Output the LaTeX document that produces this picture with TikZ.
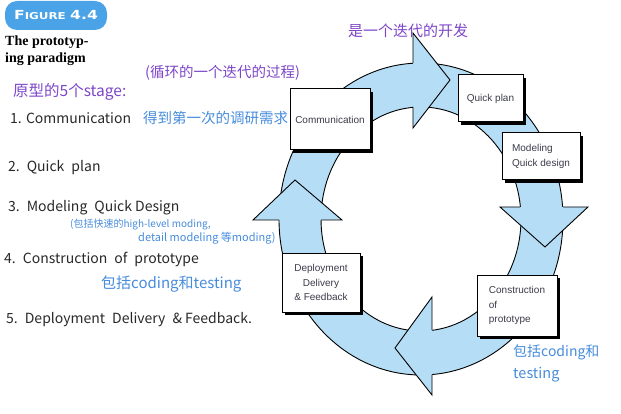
\documentclass[tikz,border=0pt]{standalone}
\usepackage{fontspec}
\newfontfamily\boxfont{Liberation Sans}
\newfontfamily\figfont{DejaVu Sans}
\newfontfamily\titlefont{Liberation Serif}
\newfontfamily\hand{Noto Sans CJK SC}
\usetikzlibrary{shadows}
\definecolor{ringblue}{RGB}{181,221,245}
\definecolor{figblue}{RGB}{74,163,230}
\definecolor{penpurple}{RGB}{125,70,200}
\definecolor{penblue}{RGB}{70,140,220}
\definecolor{penblack}{RGB}{40,40,40}
\definecolor{boxtext}{RGB}{60,60,75}
\tikzset{
    stage/.style={draw, fill=white, line width=1pt, text=boxtext, inner sep=2pt, font=\boxfont\fontsize{10}{14.5}\selectfont, drop shadow={shadow xshift=3pt, shadow yshift=-3pt, opacity=1, fill=black}},
    ring/.style={fill=ringblue, draw=black, line width=0.9pt},
    edge/.style={draw=black, line width=0.9pt, line join=miter},
    note/.style={anchor=west, inner sep=0pt, font=\hand\fontsize{#1}{#1}\selectfont},
    note/.default=14
}

\begin{document}
\begin{tikzpicture}[x=1pt, y=-1pt]
\useasboundingbox (0,0) rectangle (621,414);
\node[fill=figblue, rounded corners=12pt, minimum width=102pt, minimum height=29pt, text=white, font=\figfont\bfseries] (fig) at (56,15.5) {\scalebox{1.25}[1]{{\fontsize{12.5}{12.5}\selectfont F}{\fontsize{9.5}{9.5}\selectfont IGURE} {\fontsize{12.5}{12.5}\selectfont 4.4}}};
\node[anchor=north west, align=left, inner sep=0pt, font=\titlefont\bfseries\fontsize{14}{17}\selectfont] (title) at (5,36) {The prototyp-\\ing paradigm};

\draw[ring, even odd rule] (421,219) ellipse [x radius=142pt, y radius=156pt] (421,219) ellipse [x radius=100pt, y radius=112pt];
\fill[ringblue] (413,33) -- (450,80) -- (413,128) -- cycle;
\draw[edge] (413,63) -- (413,33) -- (450,80) -- (413,128) -- (413,107);
\fill[ringblue] (500,207) -- (545,247) -- (588,207) -- cycle;
\draw[edge] (520,207) -- (500,207) -- (545,247) -- (588,207) -- (563,207);
\fill[ringblue] (432,297) -- (395,348) -- (432,395) -- cycle;
\draw[edge] (432,330) -- (432,297) -- (395,348) -- (432,395) -- (432,374.5);
\fill[ringblue] (253,220) -- (295,180) -- (342,220) -- cycle;
\draw[edge] (279,220) -- (253,220) -- (295,180) -- (342,220) -- (321,220);

\node[stage, minimum width=80pt, minimum height=61pt] (comm) at (330,119.5) {Communication};
\node[stage, minimum width=65pt, minimum height=47pt] (plan) at (490.5,98.5) {Quick plan};
\node[stage, minimum width=78pt, minimum height=47pt, align=left] (model) at (541,156.5) {Modeling\\ Quick design};
\node[stage, minimum width=80pt, minimum height=61pt, align=left] (build) at (517,305.5) {Construction\\of\\prototype};
\node[stage, minimum width=78pt, minimum height=59pt, align=center] (deploy) at (321,282.5) {Deployment\\Delivery\\\& Feedback};

\node[note=15, text=penpurple] (iter) at (348,31) {是一个迭代的开发};
\node[note=14.5, text=penpurple] (loop) at (145,73) {(循环的一个迭代的过程)};
\node[note=15.5, text=penpurple] (five) at (13,92) {原型的5个stage:};
\node[note, text=penblack] (s1) at (10,118) {1. Communication};
\node[note=14.5, text=penblue] (s1n) at (143,118) {得到第一次的调研需求};
\node[note, text=penblack] (s2) at (8,168) {2.\enspace Quick\enspace plan};
\node[note, text=penblack] (s3) at (8,208) {3.\enspace Modeling\enspace Quick Design};
\node[note=10, text=penblue] (s3a) at (70,225) {(包括快速的high-level moding,};
\node[note=11, text=penblue] (s3b) at (138,238) {detail modeling 等moding)};
\node[note, text=penblack] (s4) at (4,259) {4.\enspace Construction\enspace of\enspace prototype};
\node[note=15, text=penblue] (s4n) at (101,284) {包括coding和testing};
\node[note, text=penblack] (s5) at (6,320) {5.\enspace Deployment\enspace Delivery\enspace \& Feedback.};
\node[note=14, text=penblue] (bn1) at (513,352) {包括coding和};
\node[note=14.5, text=penblue] (bn2) at (513,375) {testing};
\end{tikzpicture}
\end{document}
